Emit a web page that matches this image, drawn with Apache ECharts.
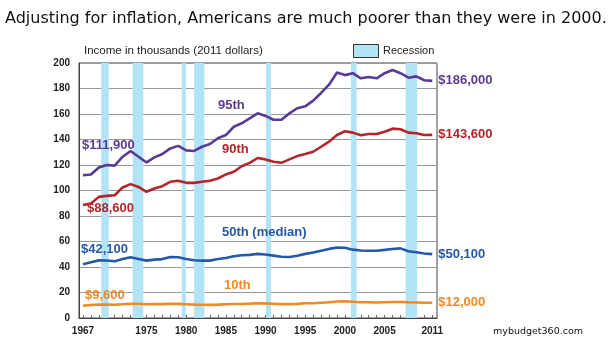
<!DOCTYPE html>
<html>
<head>
<meta charset="utf-8">
<script src="https://cdn.jsdelivr.net/npm/echarts@6/dist/echarts.min.js"></script>
<style>
html,body{margin:0;padding:0;background:#fff;}
#chart{width:613px;height:350px;}
</style>
</head>
<body>
<div id="chart"></div>
<script>
const years = [1967,1968,1969,1970,1971,1972,1973,1974,1975,1976,1977,1978,1979,1980,1981,1982,1983,1984,1985,1986,1987,1988,1989,1990,1991,1992,1993,1994,1995,1996,1997,1998,1999,2000,2001,2002,2003,2004,2005,2006,2007,2008,2009,2010,2011];
const p95 = [111.9,112.5,118.0,120.0,119.5,126.5,131.0,126.5,122.0,126.0,128.6,133.0,135.0,131.5,131.0,134.3,136.5,141.0,143.5,150.0,152.7,156.5,160.5,158.5,155.5,155.5,160.5,164.5,166.0,170.5,176.5,183.0,192.5,190.5,192.0,188.0,189.0,188.0,192.0,194.5,192.0,188.5,189.5,186.5,186.0];
const p90 = [88.6,89.8,95.0,95.8,96.3,102.4,105.0,102.8,99.0,101.6,103.4,106.8,107.6,106.0,106.0,106.8,107.6,109.4,112.6,114.7,119.0,121.7,125.5,124.4,122.5,121.7,124.4,127.0,128.6,130.4,134.3,138.3,143.5,146.5,145.4,143.3,144.3,144.3,146.1,148.5,148.0,145.4,144.9,143.5,143.6];
const p50 = [42.1,43.7,45.2,45.1,44.5,46.3,47.6,46.3,45.0,45.8,46.2,47.9,47.6,46.3,45.3,45.0,45.0,46.3,47.1,48.4,49.2,49.5,50.3,49.8,48.9,48.0,47.9,48.8,50.3,51.4,52.8,54.2,55.3,55.1,53.6,52.9,52.7,52.8,53.4,54.1,54.6,52.3,51.6,50.6,50.1];
const p10 = [9.6,10.2,10.6,10.5,10.4,10.8,11.2,11.2,10.8,10.9,10.9,11.2,11.1,10.8,10.5,10.4,10.3,10.5,10.8,11.0,11.1,11.3,11.6,11.5,11.2,10.9,10.9,11.1,11.6,11.6,12.0,12.3,12.9,13.1,12.8,12.4,12.3,12.2,12.4,12.6,12.6,12.3,12.2,12.0,12.0];
const recessionStart = [1969.3,1973.25,1979.45,1981.0,1990.06,2000.75,2007.64];
const recessionEnd   = [1970.25,1974.6,1979.96,1982.3,1990.7,2001.47,2009.1];
const yearLabels = [1967,1975,1980,1985,1990,1995,2000,2005,2011];
const yTicks = [0,20,40,60,80,100,120,140,160,180,200];
const seriesNames = ['95th','90th','50th (median)','10th'];
const startLabels = ['$111,900','$88,600','$42,100','$9,600'];
const endLabels = ['$186,000','$143,600','$50,100','$12,000'];

const colors = ['#5a3b94','#b2262b','#2459a8','#f08a24'];
const font = '"Liberation Sans", Arial, sans-serif';

const chart = echarts.init(document.getElementById('chart'), null, {renderer:'canvas'});

function pairs(vals){ return years.map((y,i)=>[y, vals[i]]); }
const allSeries = [p95,p90,p50,p10];

const series = [{
  type:'line', data:[], z:1, silent:true,
  markArea:{
    silent:true,
    itemStyle:{color:'#b3e3f6', opacity:1},
    data: recessionStart.map((s,i)=>[{xAxis:s},{xAxis:recessionEnd[i]}])
  }
}];
allSeries.forEach((vals,i)=>{
  series.push({
    name: seriesNames[i], type:'line', data: pairs(vals), z:3,
    symbol:'none', smooth:false, silent:true,
    lineStyle:{color:colors[i], width:2.6},
    endLabel:{show:true, formatter: endLabels[i], color:colors[i], fontFamily:font,
      fontWeight:'bold', fontSize:13, distance:6}
  });
});

const annot = [
  {t:seriesNames[0], x:218, y:99, c:colors[0]},
  {t:startLabels[0], x:82, y:139, c:colors[0]},
  {t:seriesNames[1], x:222, y:143, c:colors[1]},
  {t:startLabels[1], x:87, y:202, c:colors[1]},
  {t:seriesNames[2], x:222, y:226, c:colors[2]},
  {t:startLabels[2], x:81, y:243, c:colors[2]},
  {t:seriesNames[3], x:224, y:279, c:colors[3]},
  {t:startLabels[3], x:85, y:289, c:colors[3]}
];

const graphic = [
  {type:'text', left:5, top:11, style:{text:'Adjusting for inflation, Americans are much poorer than they were in 2000.',
    font:'16px "DejaVu Sans", Verdana, sans-serif', fill:'#111'}},
  {type:'text', left:84, top:45, style:{text:'Income in thousands (2011 dollars)', font:'11.5px '+font, fill:'#222'}},
  {type:'rect', left:353, top:44, shape:{width:25, height:13}, style:{fill:'#b3e3f6', stroke:'#333', lineWidth:1}},
  {type:'text', left:383, top:45, style:{text:'Recession', font:'11px '+font, fill:'#222'}},
  {type:'text', left:493, top:327, style:{text:'mybudget360.com', font:'9.5px "DejaVu Sans", Verdana, sans-serif', fill:'#111'}}
];
annot.forEach(a=>{
  graphic.push({type:'text', left:a.x, top:a.y, z:10, style:{text:a.t, font:'bold 13px '+font, fill:a.c}});
});

chart.setOption({
  animation:false,
  backgroundColor:'#fff',
  grid:{left:79, right:176, top:63, bottom:32, show:true, borderColor:'#444', borderWidth:1, backgroundColor:'transparent'},
  xAxis:{
    type:'value', min:1966.5, max:2011.6,
    axisLine:{show:true, lineStyle:{color:'#444', width:1}},
    axisTick:{show:true, inside:true, length:3, customValues: years, lineStyle:{color:'#666'}},
    axisLabel:{customValues: yearLabels, color:'#222', fontFamily:font, fontWeight:'bold', fontSize:10, margin:8,
      formatter: v => String(v)},
    splitLine:{show:false}
  },
  yAxis:{
    type:'value', min:0, max:200, interval:20,
    axisLine:{show:true, lineStyle:{color:'#444'}},
    axisTick:{show:false},
    axisLabel:{color:'#222', fontFamily:font, fontWeight:'bold', fontSize:10, margin:9},
    splitLine:{show:true, lineStyle:{color:'#999', width:1}}
  },
  series: series,
  graphic: graphic
});
</script>
</body>
</html>
